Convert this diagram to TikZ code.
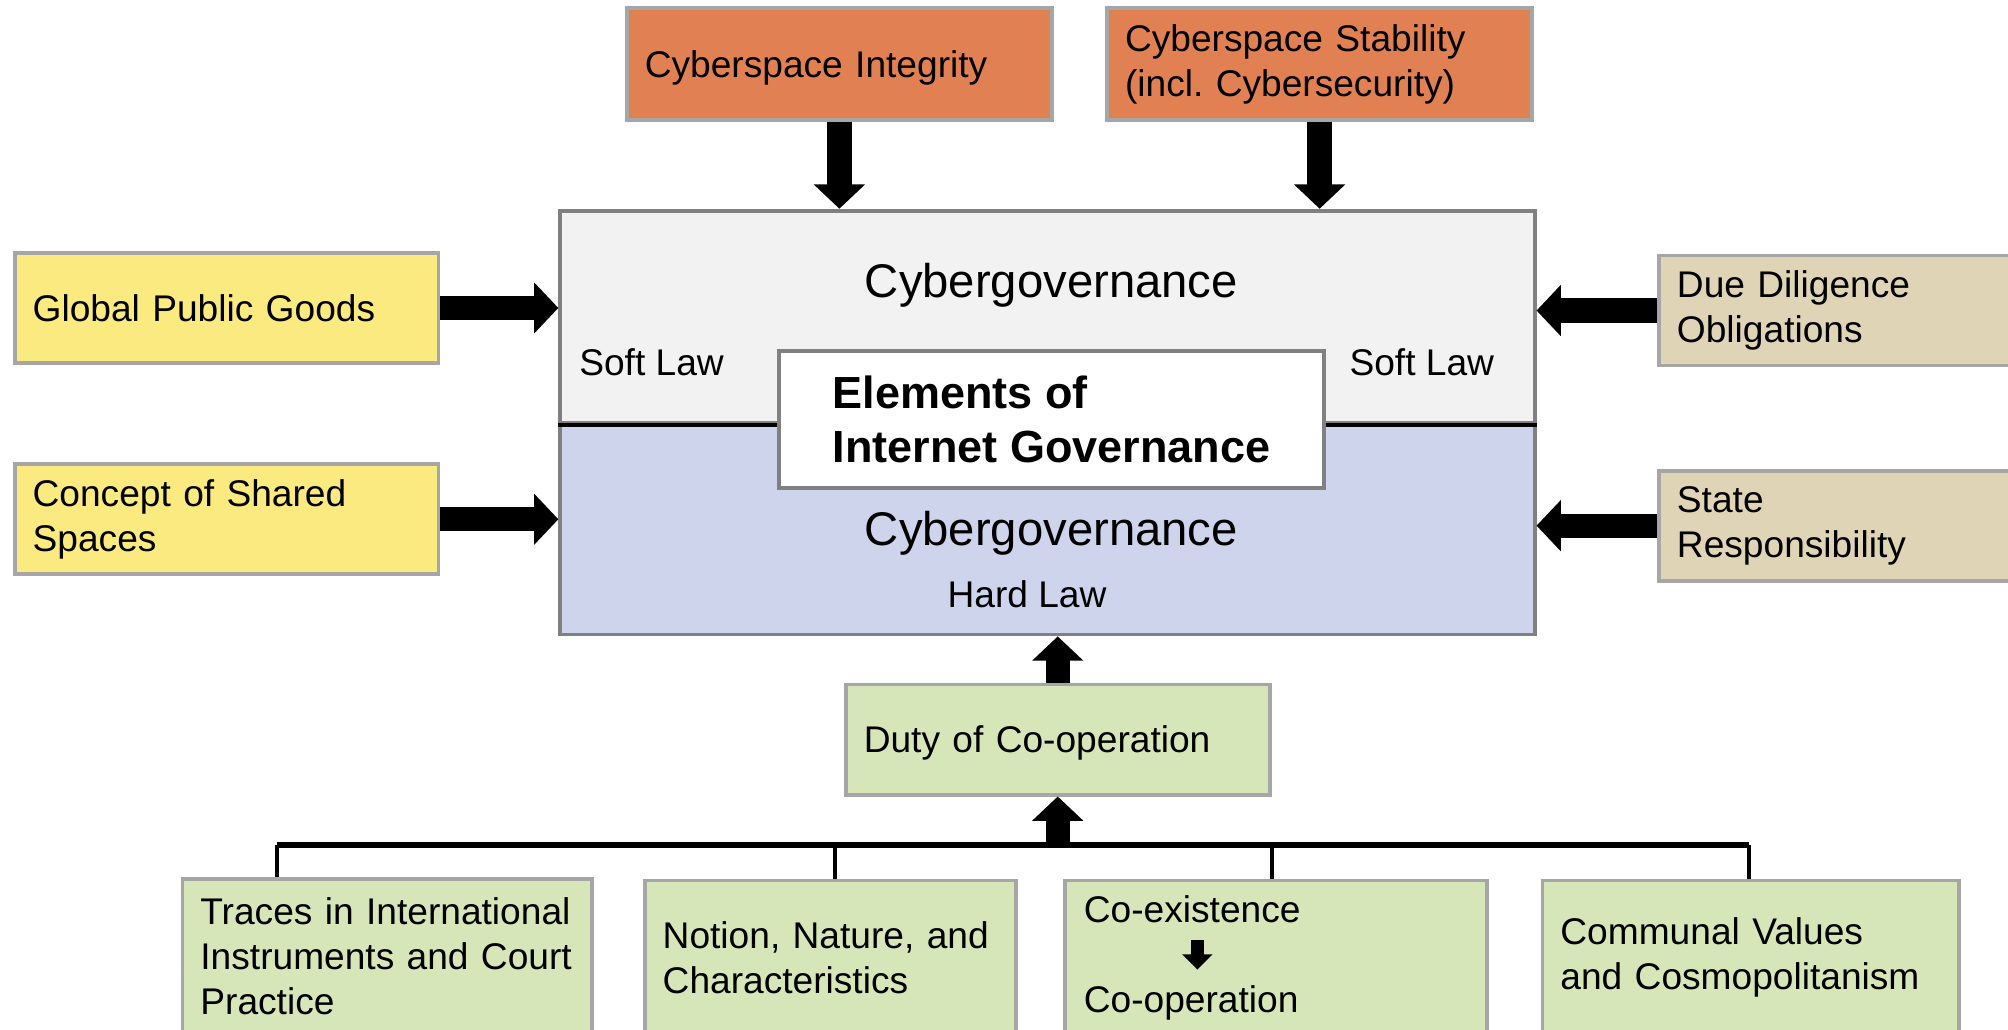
\documentclass[tikz,border=0pt]{standalone}
\usepackage{fontspec}
\setmainfont{Liberation Sans}
\frenchspacing
\usetikzlibrary{arrows.meta,positioning}
\definecolor{orangebox}{RGB}{225,128,82}
\definecolor{yellowbox}{RGB}{250,234,128}
\definecolor{tanbox}{RGB}{224,212,182}
\definecolor{greenbox}{RGB}{214,230,184}
\definecolor{softfill}{RGB}{242,242,242}
\definecolor{hardfill}{RGB}{205,212,236}
\definecolor{boxedge}{RGB}{166,166,166}
\definecolor{mainedge}{RGB}{128,128,128}
\newcommand{\cgbody}{\fontsize{16.5}{20}\selectfont}
\newcommand{\cgbig}{\fontsize{21}{25}\selectfont}
\newcommand{\cgbold}{\fontsize{20}{23.7}\selectfont\bfseries}
\tikzset{
	factor/.style={draw=boxedge, line width=1.7pt, anchor=north west, align=left, inner xsep=0.28cm, inner ysep=0pt, font=\cgbody},
	layer/.style={draw=mainedge, line width=1.7pt, anchor=north west, inner sep=0pt, minimum width=15.22cm},
	lawtext/.style={font=\cgbody, inner sep=0pt, anchor=base west},
	fat/.style={line width=0.38cm, -{Triangle[length=0.38cm,width=0.78cm]}},
	slim/.style={line width=0.2cm, -{Triangle[length=0.24cm,width=0.46cm]}}
}
\begin{document}
\begin{tikzpicture}[x=0.02cm,y=-0.02cm]
				\clip (0,0) rectangle (1568,804);
				\node[layer, fill=softfill, minimum height=3.32cm] (soft) at (436,163) {};
				\node[layer, fill=hardfill, minimum height=3.3cm] (hard) at (436,329) {};
				\draw[line width=1.8pt] (soft.south west) -- (soft.south east);
				\node[draw=mainedge, line width=1.7pt, fill=white, align=left, font=\cgbold, minimum width=8.52cm, minimum height=2.14cm] (elem) at (821,327.5) {Elements of\\Internet Governance};
				\node[font=\cgbig, inner sep=0pt, anchor=base] (govsoft) at (821,232) {Cybergovernance};
				\node[font=\cgbig, inner sep=0pt, anchor=base] (govhard) at (821,426) {Cybergovernance};
				\node[lawtext] (softL) at (452,293.5) {Soft Law};
				\node[lawtext] (softR) at (1053.5,293.5) {Soft Law};
				\node[lawtext] (hardlaw) at (739.6,474.5) {Hard Law};
				\node[factor, fill=orangebox, text width=6.08cm, minimum height=1.74cm, text depth=0pt] (integ) at (488,5) {Cyberspace Integrity};
				\node[factor, fill=orangebox, text width=6.08cm, minimum height=1.74cm] (stab) at (863,5) {Cyberspace Stability\\(incl. Cybersecurity)};
				\node[factor, fill=yellowbox, text width=6.06cm, minimum height=1.72cm, text depth=0pt] (goods) at (10,196) {Global Public Goods};
				\node[factor, fill=yellowbox, text width=6.06cm, minimum height=1.72cm] (shared) at (10,361) {Concept of Shared\\Spaces};
				\node[factor, fill=tanbox, text width=6.06cm, minimum height=1.72cm] (diligence) at (1294,198) {Due Diligence\\Obligations};
				\node[factor, fill=tanbox, text width=6.06cm, minimum height=1.72cm] (respons) at (1294,366) {State\\Responsibility};
				\node[factor, fill=greenbox, text width=6.06cm, minimum height=1.72cm, text depth=0pt] (duty) at (659,533) {Duty of Co-operation};
				\node[factor, fill=greenbox, text width=5.84cm, minimum height=2.4cm] (traces) at (141,685) {Traces in International\\Instruments and Court\\Practice};
				\node[factor, fill=greenbox, text width=5.24cm, minimum height=2.4cm] (notion) at (502,686) {Notion, Nature, and\\Characteristics};
				\node[factor, fill=greenbox, text width=6.04cm, minimum height=2.4cm] (coex) at (830,686) {};
				\node[factor, fill=greenbox, text width=5.94cm, minimum height=2.4cm] (communal) at (1203,686) {Communal Values\\and Cosmopolitanism};
				\node[lawtext] (coexa) at (846,720.5) {Co-existence};
				\node[lawtext] (coexb) at (846,790.5) {Co-operation};
				\draw[slim, shorten <=0.26cm, shorten >=0.24cm] ([xshift=0.08cm]coexa.south) -- ([xshift=0.08cm]coexa.south |- coexb.north);
				\draw[fat] (integ.south) -- (integ.south |- soft.north);
				\draw[fat] (stab.south) -- (stab.south |- soft.north);
				\draw[fat] (goods.east) -- (goods.east -| soft.west);
				\draw[fat] (shared.east) -- (shared.east -| hard.west);
				\draw[fat] (diligence.west) -- (diligence.west -| soft.east);
				\draw[fat] (respons.west) -- (respons.west -| hard.east);
				\draw[fat] (duty.north) -- (duty.north |- hard.south);
				\coordinate (busL) at (216,660);
				\coordinate (busR) at (1366,660);
				\draw[line width=0.1cm] (busL) -- (busR);
				\draw[fat] (duty.south |- busL) -- (duty.south);
				\foreach \n/\x in {traces/216,notion/652,coex/993,communal/1366}
					\draw[line width=1.7pt] (\x,660) -- (\x,660 |- \n.north);
\end{tikzpicture}
\end{document}
